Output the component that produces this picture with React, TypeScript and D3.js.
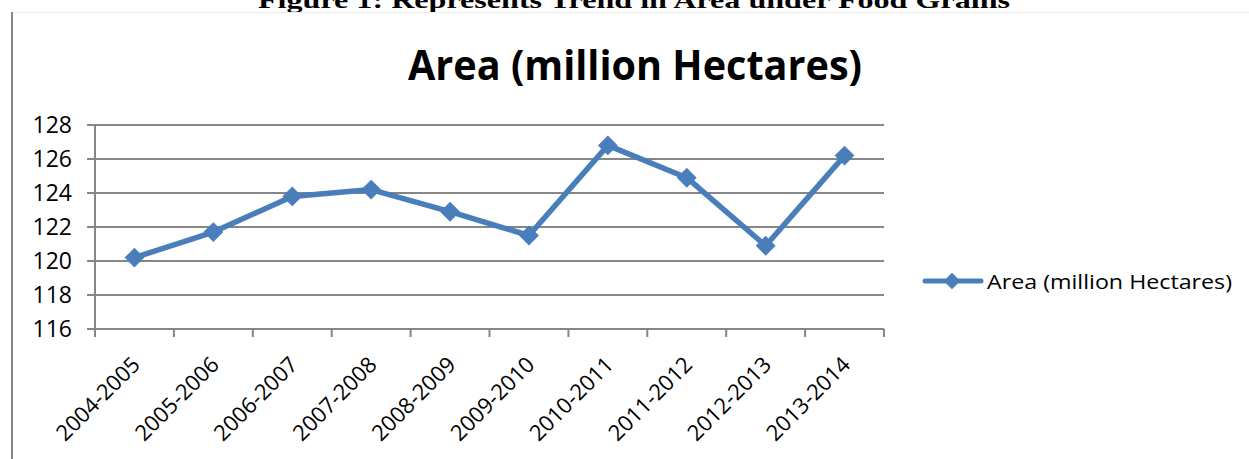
import * as React from "react";
import { scaleBand, scaleLinear, line as d3Line, symbol, symbolSquare } from "d3";

const categories = [
  "2004-2005",
  "2005-2006",
  "2006-2007",
  "2007-2008",
  "2008-2009",
  "2009-2010",
  "2010-2011",
  "2011-2012",
  "2012-2013",
  "2013-2014",
];
const areaValues = [120.2, 121.7, 123.8, 124.2, 122.9, 121.5, 126.8, 124.9, 120.9, 126.2];
const yTicks = [116, 118, 120, 122, 124, 126, 128];
const seriesName = "Area (million Hectares)";
const figureCaption = "Figure 1: Represents Trend in Area under Food Grains";

const W = 1249;
const H = 459;
const plot = { left: 95, right: 884, top: 125, bottom: 329 };
const blue = "#4a7ebb";
const gridGray = "#868686";
const labelFont = "'Open Sans', sans-serif";

const App = () => {
  const x = scaleBand<string>().domain(categories).range([plot.left, plot.right]);
  const y = scaleLinear().domain([116, 128]).range([plot.bottom, plot.top]);
  const cx = (c: string) => (x(c) as number) + x.bandwidth() / 2;

  const pts = categories.map((c, i) => ({ c, v: areaValues[i] }));
  const path = d3Line<{ c: string; v: number }>()
    .x(d => cx(d.c))
    .y(d => y(d.v))(pts);
  // excel style diamond = square turned 45deg
  const diamond = symbol().type(symbolSquare).size(170)() || "";
  const legendDiamond = symbol().type(symbolSquare).size(115)() || "";

  const boundaries = [...categories.map(c => x(c) as number), plot.right];

  return (
    <svg
      width={W}
      height={H}
      style={{ position: "absolute", left: 0, top: 0, background: "#fff" }}
    >
      {/* caption, cut off at the top like the source */}
      <text
        x={634}
        y={8}
        textAnchor="middle"
        fontFamily="'Liberation Serif', serif"
        fontWeight="bold"
        fontSize={24}
        textLength={752}
        lengthAdjust="spacingAndGlyphs"
      >
        {figureCaption}
      </text>

      {/* chart frame */}
      <line x1={12} x2={W} y1={12.5} y2={12.5} stroke="#ececec" strokeWidth={1} />
      <line x1={12} x2={12} y1={12} y2={H} stroke="#888" strokeWidth={2} />

      {/* chart title */}
      <text
        x={635}
        y={80}
        textAnchor="middle"
        fontFamily={labelFont}
        fontWeight="bold"
        fontSize={42}
        textLength={454}
        lengthAdjust="spacingAndGlyphs"
      >
        {seriesName}
      </text>

      {/* gridlines + y ticks */}
      {yTicks.map(t => (
        <g key={t}>
          <line
            x1={plot.left - 8}
            x2={plot.right}
            y1={y(t)}
            y2={y(t)}
            stroke={gridGray}
            strokeWidth={2}
          />
          <text
            x={72}
            y={y(t) + 8}
            textAnchor="end"
            fontFamily={labelFont}
            fontSize={23}
            fill="#000"
          >
            {t}
          </text>
        </g>
      ))}
      <line
        x1={plot.left}
        x2={plot.left}
        y1={plot.top}
        y2={plot.bottom}
        stroke={gridGray}
        strokeWidth={2}
      />

      {/* x tick marks */}
      {boundaries.map((b, i) => (
        <line
          key={i}
          x1={b}
          x2={b}
          y1={plot.bottom}
          y2={plot.bottom + 8}
          stroke={gridGray}
          strokeWidth={2}
        />
      ))}

      {/* x labels */}
      {categories.map(c => (
        <text
          key={c}
          transform={`translate(${cx(c) + 7},${plot.bottom + 37}) rotate(-45)`}
          textAnchor="end"
          fontFamily={labelFont}
          fontSize={22}
          fill="#000"
        >
          {c}
        </text>
      ))}

      {/* series */}
      <path
        d={path || ""}
        fill="none"
        stroke={blue}
        strokeWidth={5.5}
        strokeLinejoin="round"
        strokeLinecap="round"
      />
      {pts.map(p => (
        <path
          key={p.c}
          d={diamond}
          transform={`translate(${cx(p.c)},${y(p.v)}) rotate(45)`}
          fill={blue}
          stroke={blue}
          strokeWidth={1}
        />
      ))}

      {/* legend */}
      <line x1={925} x2={981} y1={281} y2={281} stroke={blue} strokeWidth={5} strokeLinecap="round" />
      <path d={legendDiamond} transform="translate(952,281) rotate(45)" fill={blue} stroke={blue} />
      <text
        x={987}
        y={289}
        fontFamily={labelFont}
        fontSize={20}
        textLength={245}
        lengthAdjust="spacingAndGlyphs"
        fill="#000"
      >
        {seriesName}
      </text>
    </svg>
  );
};

export default App;
